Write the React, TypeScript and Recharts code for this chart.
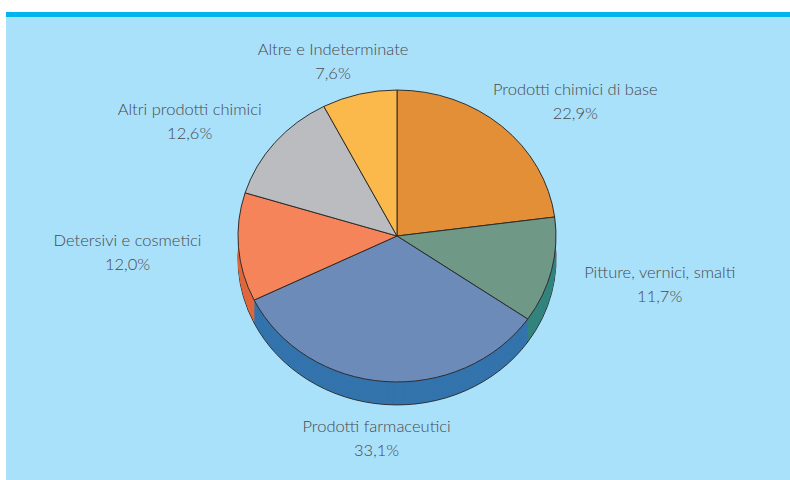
import React from "react";
import { PieChart, Pie, Cell } from "recharts";

const categories = [
  "Prodotti chimici di base",
  "Pitture, vernici, smalti",
  "Prodotti farmaceutici",
  "Detersivi e cosmetici",
  "Altri prodotti chimici",
  "Altre e Indeterminate",
];
const values = [22.9, 11.7, 33.1, 12.0, 12.6, 7.6];
const topColors = ["#e38f37", "#6f9886", "#6d8bb8", "#f5845a", "#bbbcc0", "#fbb94b"];
const sideColors = ["#b86f25", "#34847f", "#3474ad", "#e0683e", "#8e8f93", "#d8952c"];

const data = categories.map((name, i) => ({ name, value: values[i] }));

const W = 790;
const H = 480;
const CX = 397;
const CY = 236;
const R = 159;
const SY = 0.918;
const DEPTH = 25;
const depthSteps = Array.from({ length: DEPTH }, (_, i) => DEPTH - i);

const fmt = (v: number) => v.toFixed(1).replace(".", ",") + "%";

const renderLabel = (p: any) => {
  const rad = Math.PI / 180;
  const c = Math.cos(-p.midAngle * rad);
  const s = Math.sin(-p.midAngle * rad);
  const x = p.cx + p.outerRadius * 1.7 * c;
  const y = p.cy + p.outerRadius * 1.13 * s + (s > 0 ? DEPTH * SY * s : 0);
  return (
    <text
      x={x}
      y={y}
      textAnchor="middle"
      fill="#4a4a4a"
      fontFamily="Lato, 'Open Sans', sans-serif"
      fontSize={16.5}
      fontWeight={300}
    >
      <tspan x={x} y={y - 6}>{p.name}</tspan>
      <tspan x={x} y={y + 18}>{fmt(p.value)}</tspan>
    </text>
  );
};

export default function App() {
  return (
    <div style={{ position: "relative", width: W, height: H, background: "#ffffff", overflow: "hidden" }}>
      <style>{`
        body { margin: 0; }
        .recharts-sector { transform-box: view-box; transform-origin: ${CX}px ${CY}px; transform: scaleY(${SY}); }
      `}</style>
      <div
        style={{
          position: "absolute",
          left: 6,
          top: 12,
          width: W - 6,
          height: H - 12,
          background: "#a9e0fa",
          borderTop: "5px solid #00b5ed",
          boxSizing: "border-box",
        }}
      />
      <div style={{ position: "absolute", left: 0, top: 0 }}>
        <PieChart width={W} height={H} margin={{ top: 0, right: 0, bottom: 0, left: 0 }}>
          {depthSteps.map((d) => (
            <Pie
              key={"side" + d}
              data={data}
              dataKey="value"
              nameKey="name"
              cx={CX}
              cy={CY + d}
              outerRadius={R}
              startAngle={90}
              endAngle={-270}
              stroke={d === DEPTH ? "#2a2a2a" : "none"}
              strokeWidth={1}
              isAnimationActive={false}
              label={false}
              labelLine={false}
            >
              {data.map((_, i) => (
                <Cell key={i} fill={sideColors[i]} />
              ))}
            </Pie>
          ))}
          <Pie
            data={data}
            dataKey="value"
            nameKey="name"
            cx={CX}
            cy={CY}
            outerRadius={R}
            startAngle={90}
            endAngle={-270}
            stroke="#2a2a2a"
            strokeWidth={1}
            isAnimationActive={false}
            label={renderLabel}
            labelLine={false}
          >
            {data.map((_, i) => (
              <Cell key={i} fill={topColors[i]} />
            ))}
          </Pie>
        </PieChart>
      </div>
    </div>
  );
}
